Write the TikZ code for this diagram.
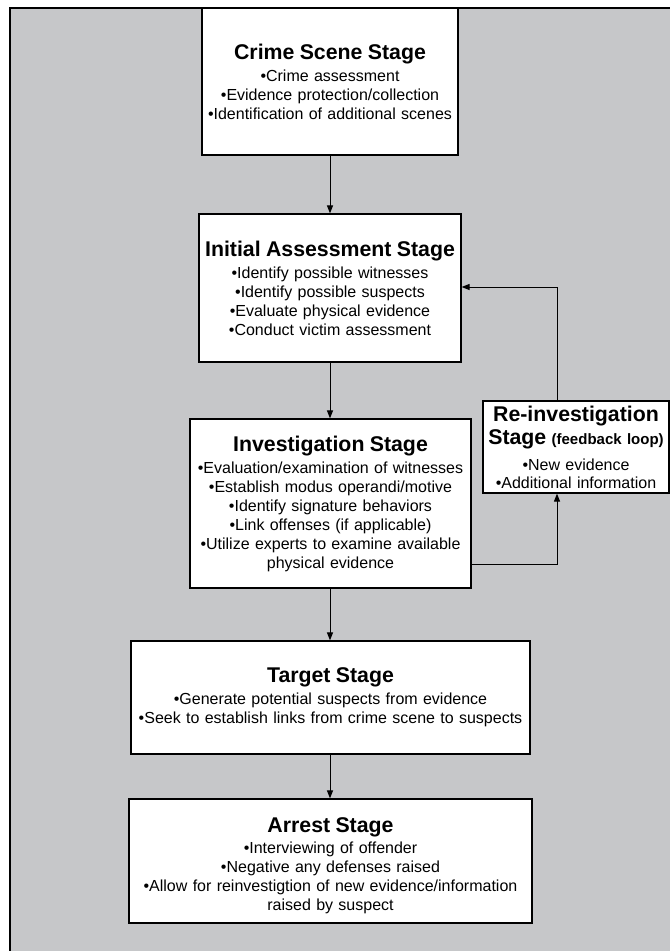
\documentclass[tikz,border=0pt]{standalone}
\usepackage{fontspec}
\setmainfont{Liberation Sans}
\usetikzlibrary{arrows.meta,calc}
\definecolor{bggray}{RGB}{198,199,201}
\newcommand{\ttl}[1]{{\fontsize{21.3}{22}\selectfont\bfseries #1}}
\begin{document}
\begin{tikzpicture}[x=1pt,y=-1pt,
  stagebox/.style={draw=black,line width=1.2pt,fill=white,align=center,inner sep=0pt,
     font=\fontsize{16}{19}\selectfont},
  arr/.style={line width=1pt,-{Triangle[length=8pt,width=6pt]}},
  ln/.style={line width=0.9pt}]
\useasboundingbox (0,0) rectangle (670,951);
\fill[white] (0,0) rectangle (670,951);
\fill[bggray] (10,8) rectangle (670,951);
\draw[line width=1.5pt] (10,951) -- (10,8) -- (670,8);

\node[stagebox,minimum width=256pt,minimum height=147pt,text width=250pt] (crime) at (330,81.5)
 {\ttl{Crime Scene Stage}\\[3pt]
  •Crime assessment\\
  •Evidence protection/collection\\
  •Identification of additional scenes};

\node[stagebox,minimum width=262pt,minimum height=148pt,text width=256pt] (init) at (330,288)
 {\ttl{Initial Assessment Stage}\\[3pt]
  •Identify possible witnesses\\
  •Identify possible suspects\\
  •Evaluate physical evidence\\
  •Conduct victim assessment};

\node[stagebox,minimum width=281pt,minimum height=169pt,text width=275pt] (inv) at (330.5,503.5)
 {\ttl{Investigation Stage}\\[3pt]
  •Evaluation/examination of witnesses\\
  •Establish modus operandi/motive\\
  •Identify signature behaviors\\
  •Link offenses (if applicable)\\
  •Utilize experts to examine available\\
  physical evidence};

\node[stagebox,minimum width=186pt,minimum height=92pt,text width=186pt,font=\fontsize{16}{17.5}\selectfont] (reinv) at (576,447)
 {{\fontsize{21.3}{23}\selectfont\bfseries Re-investigation\\
  Stage {\fontsize{15}{15}\selectfont (feedback loop)}\par}\vspace{9pt}
  •New evidence\\
  •Additional information};

\node[stagebox,minimum width=399pt,minimum height=113pt,text width=393pt] (target) at (330.5,697.5)
 {\ttl{Target Stage}\\[3pt]
  •Generate potential suspects from evidence\\
  •Seek to establish links from crime scene to suspects};

\node[stagebox,minimum width=403pt,minimum height=124pt,text width=397pt] (arrest) at (330.5,861)
 {\rule{0pt}{23.5pt}\ttl{Arrest Stage}\\[2pt]
  •Interviewing of offender\\
  •Negative any defenses raised\\
  •Allow for reinvestigtion of new evidence/information\\
  raised by suspect};

\draw[arr] (crime.south) -- (crime.south |- init.north);
\draw[arr] (crime.south |- init.south) -- (crime.south |- inv.north);
\draw[arr] (crime.south |- inv.south) -- (crime.south |- target.north);
\draw[arr] (crime.south |- target.south) -- (crime.south |- arrest.north);

\coordinate (c1) at (557,564);
\coordinate (c2) at (557,287);
\draw[arr] (c1 -| inv.east) -- (c1) -- (c1 |- reinv.south);
\draw[arr] (c2 |- reinv.north) -- (c2) -- (c2 -| init.east);
\end{tikzpicture}
\end{document}
